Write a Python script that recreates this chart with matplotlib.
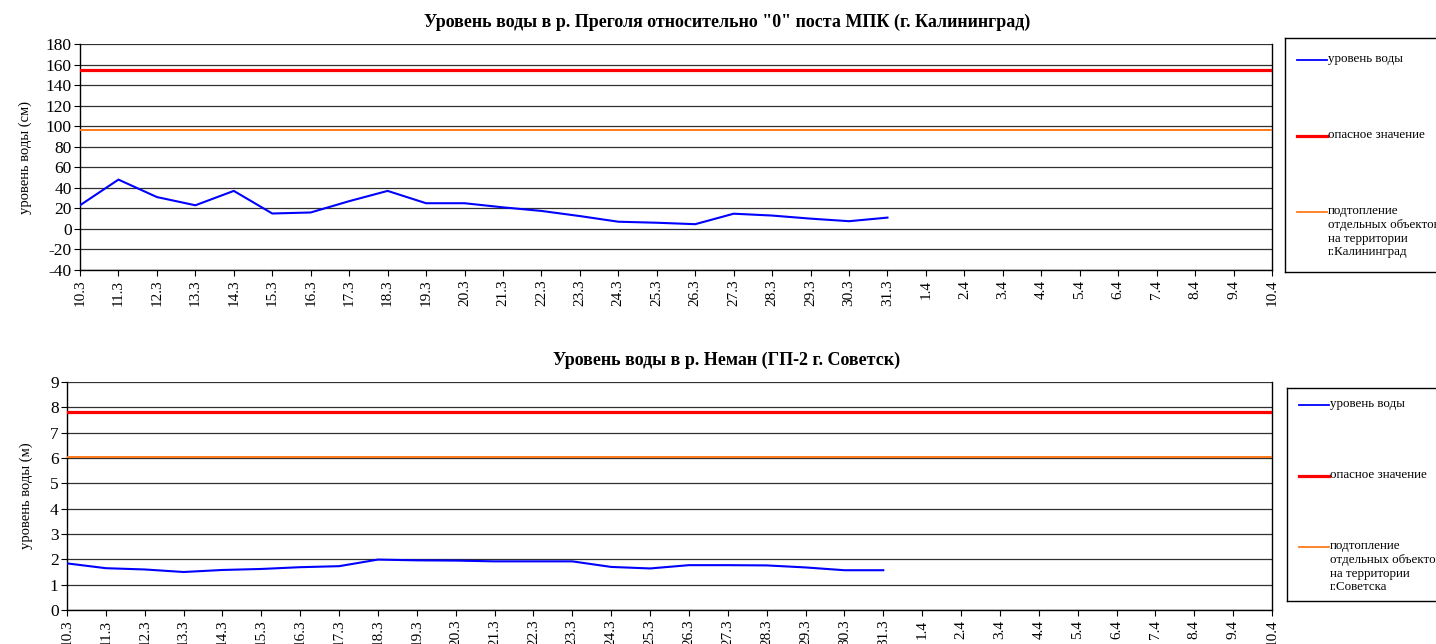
import matplotlib

matplotlib.use("Agg")
import matplotlib.pyplot as plt

plt.rcParams["font.family"] = ["Liberation Serif", "DejaVu Serif"]
plt.rcParams["axes.unicode_minus"] = False

dates = ["10.3", "11.3", "12.3", "13.3", "14.3", "15.3", "16.3", "17.3", "18.3", "19.3",
         "20.3", "21.3", "22.3", "23.3", "24.3", "25.3", "26.3", "27.3", "28.3", "29.3",
         "30.3", "31.3", "1.4", "2.4", "3.4", "4.4", "5.4", "6.4", "7.4", "8.4", "9.4", "10.4"]

pregolya = [23, 48, 31, 23, 37, 15, 16, 27, 37, 25, 25, 21, 17.5, 12.5, 7, 6, 4.6, 14.8,
            13, 10, 7.5, 11]
pregolya_danger = 155
pregolya_flood = 96

neman = [1.84, 1.65, 1.6, 1.5, 1.58, 1.62, 1.69, 1.73, 1.99, 1.96, 1.95, 1.92, 1.92, 1.92,
         1.70, 1.64, 1.77, 1.77, 1.76, 1.68, 1.57, 1.57]
neman_danger = 7.8
neman_flood = 6.05

blue = "#0000ff"
red = "#ff0000"
orange = "#ff7a1a"

W, H = 1436, 644
fig = plt.figure(figsize=(W / 100, H / 100), dpi=100)


def px_axes(x0, y0, x1, y1):
    return fig.add_axes([x0 / W, 1 - y1 / H, (x1 - x0) / W, (y1 - y0) / H])


def draw_chart(ax, values, danger, flood, ylim, yticks, ylabel, title, title_y, lblpad):
    x = list(range(len(dates)))
    ax.plot(x[:len(values)], values, color=blue, lw=1.5, zorder=3)
    ax.plot([x[0], x[-1]], [danger, danger], color=red, lw=2.3, zorder=3)
    ax.plot([x[0], x[-1]], [flood, flood], color=orange, lw=1.4, zorder=3)
    ax.set_xlim(0, len(dates) - 1)
    ax.set_ylim(*ylim)
    ax.set_yticks(yticks)
    ax.set_xticks(x)
    ax.set_xticklabels(dates, rotation=90, fontsize=11)
    ax.tick_params(axis="y", labelsize=12.5, length=4, direction="out", pad=2)
    ax.tick_params(axis="x", length=4, direction="out", pad=3)
    ax.yaxis.grid(True, color="#303030", lw=0.9)
    ax.set_axisbelow(True)
    ax.spines["top"].set_visible(False)
    for s in ["left", "bottom", "right"]:
        ax.spines[s].set_color("black")
        ax.spines[s].set_linewidth(1.0)
    ax.set_ylabel(ylabel, fontsize=10.5, labelpad=lblpad)
    fig.text(727 / W, 1 - title_y / H, title, ha="center", va="center",
             fontsize=13, fontweight="bold")


def draw_legend(x0, y0, x1, y1, entries):
    lax = px_axes(x0, y0, x1, y1)
    lax.set_xlim(x0, x1)
    lax.set_ylim(y1, y0)
    lax.set_xticks([])
    lax.set_yticks([])
    for s in lax.spines.values():
        s.set_linewidth(1.0)
    for ypos, color, lw, label in entries:
        lax.plot([x0 + 12, x0 + 42], [ypos, ypos], color=color, lw=lw, clip_on=False)
        lax.text(x0 + 43, ypos - 7, label, fontsize=9.4, va="top", ha="left",
                 linespacing=1.2)


ax1 = px_axes(80, 44, 1272, 270)
draw_chart(ax1, pregolya, pregolya_danger, pregolya_flood, (-40, 180),
           list(range(-40, 181, 20)), "уровень воды (см)",
           'Уровень воды в р. Преголя относительно "0" поста МПК (г. Калининград)', 22, 10)
draw_legend(1285, 38, 1460, 272, [
    (60, blue, 1.3, "уровень воды"),
    (136, red, 2.3, "опасное значение"),
    (212, orange, 1.3, "подтопление\nотдельных объектов\nна территории\nг.Калининград"),
])

ax2 = px_axes(67, 382, 1272, 610)
draw_chart(ax2, neman, neman_danger, neman_flood, (0, 9), list(range(0, 10)),
           "уровень воды (м)", "Уровень воды в р. Неман (ГП-2 г. Советск)", 360, 12)
draw_legend(1287, 388, 1460, 601, [
    (405, blue, 1.3, "уровень воды"),
    (476, red, 2.3, "опасное значение"),
    (547, orange, 1.3, "подтопление\nотдельных объектов\nна территории\nг.Советска"),
])

fig.savefig("out.png", dpi=100)
